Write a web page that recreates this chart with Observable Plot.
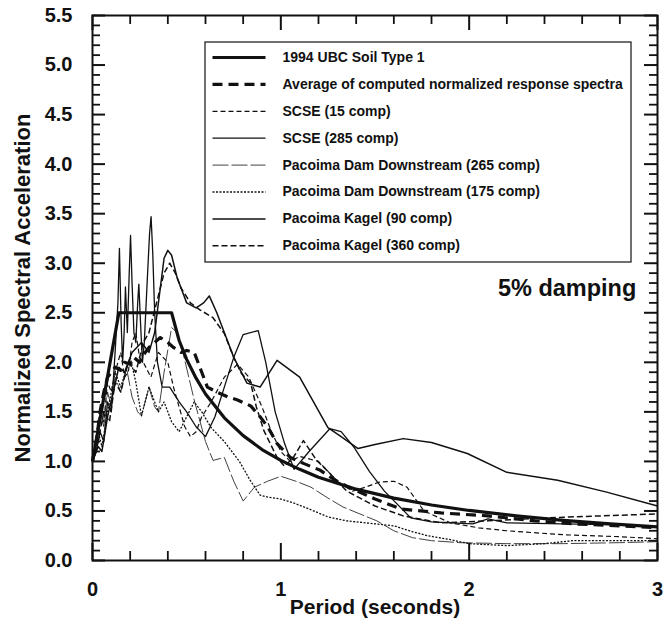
<!DOCTYPE html>
<html><head><meta charset="utf-8">
<script src="https://cdn.jsdelivr.net/npm/d3@7"></script>
<script src="https://cdn.jsdelivr.net/npm/@observablehq/plot@0.6"></script>
<style>
body{margin:0;background:#fff;}
#chart{position:relative;width:663px;height:622px;}
#chart svg{position:absolute;left:0;top:0;}
</style></head><body><div id="chart"></div>
<script>
// ---- data: [period (s), normalized spectral acceleration] ----
const ubc = [[0,1.0],[0.14,2.5],[0.42,2.5],[0.46,2.22],[0.5,2.03],[0.55,1.84],[0.6,1.68],[0.7,1.44],[0.8,1.26],[0.9,1.12],[1.0,1.01],[1.1,0.92],[1.2,0.84],[1.4,0.72],[1.6,0.63],[1.8,0.56],[2.0,0.505],[2.25,0.45],[2.5,0.405],[2.75,0.37],[3.0,0.34]];
const average = [[0,1.0],[0.02,1.2],[0.04,1.5],[0.06,1.7],[0.08,1.85],[0.10,1.9],[0.12,1.95],[0.15,1.92],[0.17,2.0],[0.2,1.98],[0.22,2.05],[0.25,2.0],[0.28,2.1],[0.3,2.15],[0.33,2.2],[0.36,2.25],[0.4,2.2],[0.43,2.15],[0.47,2.1],[0.5,2.12],[0.54,2.1],[0.58,1.9],[0.61,1.75],[0.66,1.7],[0.72,1.65],[0.77,1.62],[0.84,1.56],[0.89,1.45],[0.93,1.35],[0.98,1.18],[1.05,1.04],[1.12,0.98],[1.21,0.91],[1.28,0.82],[1.35,0.75],[1.5,0.62],[1.64,0.52],[1.85,0.48],[2.1,0.45],[2.35,0.40],[2.55,0.37],[2.8,0.35],[3.0,0.33]];
const scse15 = [[0,1.0],[0.02,1.25],[0.04,1.5],[0.06,1.4],[0.08,1.8],[0.1,1.7],[0.12,1.9],[0.15,2.1],[0.17,1.85],[0.19,1.9],[0.21,2.2],[0.23,2.3],[0.25,2.05],[0.27,2.0],[0.31,1.85],[0.35,2.1],[0.4,2.0],[0.43,1.75],[0.46,1.55],[0.49,1.35],[0.52,1.25],[0.55,1.3],[0.58,1.45],[0.63,1.6],[0.7,1.85],[0.77,1.98],[0.83,1.85],[0.9,1.55],[0.95,1.3],[1.0,1.1],[1.05,1.0],[1.1,1.05],[1.2,1.0],[1.3,0.8],[1.38,0.7],[1.45,0.74],[1.52,0.79],[1.6,0.8],[1.67,0.74],[1.76,0.5],[1.9,0.38],[2.05,0.33],[2.2,0.3],[2.5,0.26],[2.8,0.24],[3.0,0.22]];
const scse285 = [[0,1.0],[0.02,1.1],[0.04,1.3],[0.06,1.2],[0.08,1.6],[0.1,1.5],[0.12,2.1],[0.135,2.6],[0.143,3.15],[0.152,2.4],[0.16,2.0],[0.168,2.3],[0.175,2.76],[0.185,2.3],[0.195,2.9],[0.202,3.28],[0.21,2.8],[0.22,2.3],[0.23,2.2],[0.24,2.6],[0.246,2.79],[0.255,2.4],[0.265,2.0],[0.275,2.2],[0.29,2.8],[0.303,3.3],[0.311,3.47],[0.32,3.1],[0.33,2.5],[0.345,2.0],[0.37,1.75],[0.41,1.75],[0.46,1.6],[0.5,1.5],[0.55,1.35],[0.6,1.25],[0.65,1.45],[0.7,1.75],[0.75,2.05],[0.8,2.28],[0.88,2.32],[0.92,2.0],[0.97,1.5],[1.02,1.18],[1.07,0.92],[1.15,1.1],[1.26,1.33],[1.32,1.3],[1.39,1.14],[1.47,0.9],[1.55,0.7],[1.69,0.43],[1.8,0.39],[2.02,0.37],[2.1,0.42],[2.2,0.38],[2.5,0.37],[2.8,0.36],[3.0,0.34]];
const pdd265 = [[0,1.0],[0.02,1.2],[0.04,1.5],[0.06,1.35],[0.08,1.7],[0.1,1.55],[0.12,1.85],[0.15,1.7],[0.18,1.95],[0.21,1.65],[0.24,1.5],[0.26,1.46],[0.3,1.75],[0.33,1.55],[0.35,1.5],[0.38,1.9],[0.42,2.35],[0.45,2.3],[0.48,2.1],[0.54,1.62],[0.6,1.2],[0.64,1.01],[0.7,1.04],[0.75,0.8],[0.8,0.6],[0.86,0.74],[0.93,0.8],[1.0,0.85],[1.08,0.8],[1.16,0.74],[1.25,0.63],[1.33,0.54],[1.42,0.47],[1.51,0.4],[1.6,0.3],[1.7,0.23],[1.8,0.2],[1.95,0.18],[2.2,0.17],[2.5,0.17],[2.8,0.18],[3.0,0.19]];
const pdd175 = [[0,1.0],[0.03,1.3],[0.05,1.15],[0.08,1.5],[0.12,1.9],[0.15,1.75],[0.2,2.05],[0.23,1.8],[0.26,1.46],[0.3,1.75],[0.35,1.5],[0.38,1.6],[0.42,1.4],[0.46,1.3],[0.5,1.45],[0.54,1.6],[0.58,1.5],[0.63,1.34],[0.7,1.2],[0.78,1.0],[0.84,0.8],[0.89,0.66],[0.93,0.64],[1.0,0.62],[1.07,0.58],[1.15,0.52],[1.25,0.44],[1.35,0.4],[1.5,0.37],[1.6,0.35],[1.7,0.29],[1.78,0.25],[1.9,0.21],[2.0,0.17],[2.2,0.15],[2.4,0.17],[2.55,0.2],[2.8,0.2],[3.0,0.2]];
const kagel90 = [[0,1.0],[0.03,1.15],[0.05,1.1],[0.08,1.45],[0.11,1.7],[0.14,1.95],[0.17,1.9],[0.21,2.1],[0.26,2.2],[0.3,2.1],[0.33,2.3],[0.36,2.75],[0.38,3.05],[0.4,3.13],[0.42,3.08],[0.45,2.85],[0.5,2.6],[0.55,2.55],[0.59,2.6],[0.62,2.67],[0.66,2.5],[0.71,2.25],[0.75,2.05],[0.82,1.79],[0.89,1.75],[0.98,2.02],[1.1,1.85],[1.25,1.34],[1.32,1.25],[1.41,1.13],[1.5,1.17],[1.65,1.23],[1.8,1.19],[1.99,1.08],[2.2,0.89],[2.47,0.81],[2.73,0.69],[3.0,0.55]];
const kagel360 = [[0,1.0],[0.03,1.2],[0.06,1.5],[0.09,1.4],[0.12,1.8],[0.15,1.7],[0.19,2.0],[0.23,1.9],[0.27,2.2],[0.3,2.3],[0.34,2.6],[0.38,2.9],[0.41,3.0],[0.44,2.9],[0.47,2.75],[0.52,2.6],[0.57,2.53],[0.64,2.45],[0.7,2.29],[0.75,2.05],[0.79,1.89],[0.84,1.79],[0.87,1.55],[0.91,1.31],[0.98,1.04],[1.02,0.95],[1.07,1.05],[1.12,1.21],[1.19,1.01],[1.25,0.9],[1.35,0.7],[1.5,0.55],[1.65,0.45],[1.85,0.38],[2.1,0.4],[2.4,0.43],[2.7,0.45],[3.0,0.47]];

const seriesNames = ["1994 UBC Soil Type 1","Average of computed normalized response spectra","SCSE (15 comp)","SCSE (285 comp)","Pacoima Dam Downstream (265 comp)","Pacoima Dam Downstream (175 comp)","Pacoima Kagel (90 comp)","Pacoima Kagel (360 comp)"];
const seriesData = [ubc, average, scse15, scse285, pdd265, pdd175, kagel90, kagel360];
const xTickLabels = [0, 1, 2, 3];
const yTickLabels = [0,0.5,1,1.5,2,2.5,3,3.5,4,4.5,5,5.5];

// ---- styles ----
const styles = [
  {w: 3.2, dash: null},
  {w: 3.2, dash: "10,6"},
  {w: 1.2, dash: "5,3"},
  {w: 1.3, dash: null},
  {w: 0.8, dash: "16,3"},
  {w: 1.3, dash: "2,1.5"},
  {w: 1.5, dash: null},
  {w: 1.5, dash: "6,3"}
];
const FONT = '"Liberation Sans", Arial, Helvetica, sans-serif';
const INK = "#111";

const W = 663, H = 622, mL = 92, mR = 6, mT = 15, mB = 62;
const pxX = 3 / (W - mL - mR), pxY = 5.5 / (H - mT - mB);  // data units per pixel
const xMajor = [0,1,2,3];
const xMinor = [0.2,0.4,0.6,0.8,1.2,1.4,1.6,1.8,2.2,2.4,2.6,2.8];
const yMajor = yTickLabels;
const yMinor = d3.range(0,55).map(i => i/10).filter(v => Math.abs(v*2 - Math.round(v*2)) > 1e-6);

// legend layout (pixel offsets converted to data space of the frame)
const fx = px => (px - mL) * pxX, fy = py => (H - mB - py) * pxY;
const legBox = {x1: fx(205), x2: fx(631), y1: fy(262), y2: fy(42)};
const rowY = i => fy(57 + i * 26.9);

const lineMarks = seriesData.map((d, i) => Plot.line(d, {
  x: p => p[0], y: p => p[1], stroke: INK, strokeWidth: styles[i].w,
  strokeDasharray: styles[i].dash, strokeLinejoin: "round", strokeLinecap: "butt"
}));
const legendSamples = seriesNames.map((n, i) => Plot.link([n], {
  x1: d => fx(212), x2: d => fx(265), y1: d => rowY(i), y2: d => rowY(i),
  stroke: INK, strokeWidth: styles[i].w, strokeDasharray: styles[i].dash
}));

const plot = Plot.plot({
  width: W, height: H,
  marginLeft: mL, marginRight: mR, marginTop: mT, marginBottom: mB,
  x: {domain: [0, 3], axis: null},
  y: {domain: [0, 5.5], axis: null},
  style: {fontFamily: FONT, background: "#fff", overflow: "visible"},
  marks: [
    ...lineMarks,
    // inward ticks (bottom, top, left, right)
    Plot.ruleX(xMajor, {x: d => d, y1: 0, y2: 17*pxY, stroke: INK, strokeWidth: 2}),
    Plot.ruleX(xMinor, {x: d => d, y1: 0, y2: 9*pxY, stroke: INK, strokeWidth: 1.8}),
    Plot.ruleX(xMajor, {x: d => d, y1: 5.5, y2: 5.5 - 15*pxY, stroke: INK, strokeWidth: 2}),
    Plot.ruleX(xMinor, {x: d => d, y1: 5.5, y2: 5.5 - 9*pxY, stroke: INK, strokeWidth: 1.8}),
    Plot.ruleY(yMajor, {y: d => d, x1: 0, x2: 13*pxX, stroke: INK, strokeWidth: 2}),
    Plot.ruleY(yMinor, {y: d => d, x1: 0, x2: 8*pxX, stroke: INK, strokeWidth: 1.8}),
    Plot.ruleY(yMajor, {y: d => d, x1: 3, x2: 3 - 13*pxX, stroke: INK, strokeWidth: 2}),
    Plot.ruleY(yMinor, {y: d => d, x1: 3, x2: 3 - 8*pxX, stroke: INK, strokeWidth: 1.8}),
    Plot.frame({stroke: INK, strokeWidth: 2}),
    // legend
    Plot.rect([legBox], {x1: d => d.x1, x2: d => d.x2, y1: d => d.y1, y2: d => d.y2, fill: "#fff", stroke: INK, strokeWidth: 1.2}),
    ...legendSamples,
    Plot.text(seriesNames, {x: d => fx(282), y: (d, i) => rowY(i), text: d => d, textAnchor: "start", fontSize: 14, fontWeight: "bold", fill: INK}),
    // tick labels
    Plot.text(xTickLabels, {x: d => d, y: 0, dy: 29, text: d => String(d), fontSize: 20, fontWeight: "bold", fill: INK}),
    Plot.text(yTickLabels, {x: 0, y: d => d, dx: -20, textAnchor: "end", text: d => d.toFixed(1), fontSize: 20, fontWeight: "bold", fill: INK}),
    // axis titles
    Plot.text(["Period (seconds)"], {frameAnchor: "bottom", dy: 47, textAnchor: "middle", lineAnchor: "middle", text: d => d, fontSize: 21, fontWeight: "bold", fill: INK}),
    Plot.text(["Normalized Spectral Acceleration"], {frameAnchor: "left", dx: -70, rotate: -90, textAnchor: "middle", lineAnchor: "middle", text: d => d, fontSize: 22, fontWeight: "bold", fill: INK}),
    Plot.text(["5% damping"], {x: 2.52, y: 2.75, text: d => d, fontSize: 23.5, fontWeight: "bold", fill: INK})
  ]
});
document.getElementById("chart").appendChild(plot);
</script></body></html>
